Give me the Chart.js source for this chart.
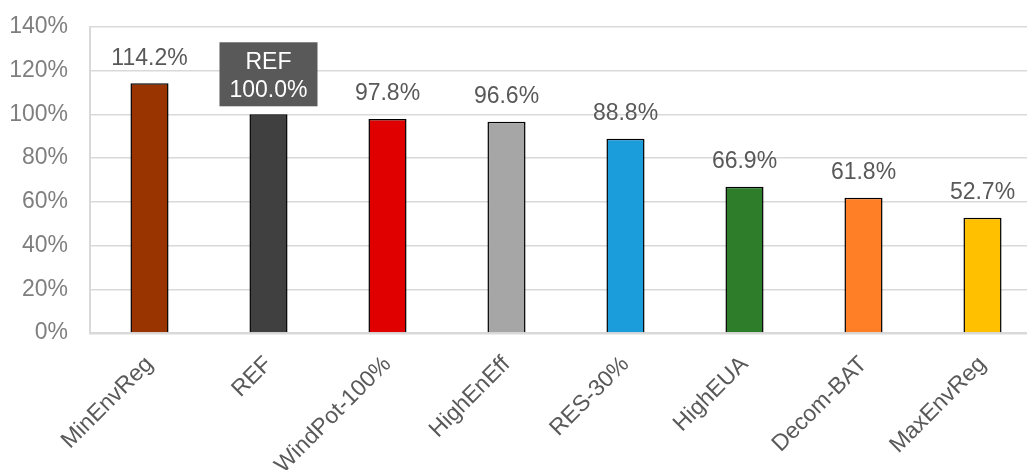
<!DOCTYPE html>
<html><head><meta charset="utf-8">
<script src="https://cdn.jsdelivr.net/npm/chart.js@4/dist/chart.umd.min.js"></script>
<style>html,body{margin:0;padding:0;overflow:hidden;background:#fff;}#wrap{position:relative;width:1042px;height:470px;overflow:hidden;}#c{position:absolute;left:0;top:-9px;}</style>
</head><body><div id="wrap"><canvas id="c" width="1042" height="479"></canvas></div>
<script>
const categories = ["MinEnvReg","REF","WindPot-100%","HighEnEff","RES-30%","HighEUA","Decom-BAT","MaxEnvReg"];
const values = [114.2,100.0,97.8,96.6,88.8,66.9,61.8,52.7];
const colors = ["#993300","#404040","#E00000","#A6A6A6","#1B9CDB","#2E7D2A","#FF7F27","#FFC000"];
const yTicks = [0,20,40,60,80,100,120,140];
const highlightIndex = 1;
const highlightTitle = "REF";
const FONT = '"Liberation Sans", Arial, sans-serif';

const labelPlugin = {
  id:'labels',
  afterDatasetsDraw(chart){
    const ctx = chart.ctx;
    const meta = chart.getDatasetMeta(0);
    ctx.save();
    ctx.font = '23px ' + FONT;
    ctx.textAlign = 'center';
    ctx.textBaseline = 'middle';
    meta.data.forEach((bar,i)=>{
      const txt = values[i].toFixed(1)+'%';
      if(i===highlightIndex){
        const w=98,h=64;
        const x0=bar.x-w/2, y1=bar.y-8, y0=y1-h;
        ctx.fillStyle='#595959';
        ctx.fillRect(x0,y0,w,h);
        ctx.fillStyle='#ffffff';
        ctx.fillText(highlightTitle,bar.x,y0+20);
        ctx.fillText(txt,bar.x,y0+48);
      } else {
        ctx.fillStyle='#595959';
        ctx.fillText(txt,bar.x,bar.y-25);
      }
    });
    ctx.restore();
  }
};

new Chart(document.getElementById('c'),{
  type:'bar',
  data:{labels:categories,datasets:[{data:values,backgroundColor:colors,borderColor:'#000',borderWidth:1.5,barPercentage:0.32,categoryPercentage:1}]},
  options:{
    responsive:false,animation:false,
    layout:{padding:{top:14,right:0,left:0,bottom:0}},
    plugins:{legend:{display:false},tooltip:{enabled:false}},
    scales:{
      y:{min:0,max:140,
        afterFit(s){s.width=90;},
        afterBuildTicks(s){s.ticks=yTicks.map(v=>({value:v}));},
        ticks:{callback:v=>v+'%',color:'#7f7f7f',font:{size:23,family:FONT},padding:22},
        grid:{color:'#d9d9d9',lineWidth:1.5,drawTicks:false},
        border:{color:'#d9d9d9',width:2}
      },
      x:{
        afterFit(s){s.height=137;},
        ticks:{minRotation:45,maxRotation:45,color:'#595959',font:{size:23,family:FONT},padding:18},
        grid:{display:false,drawTicks:false},
        border:{color:'#d9d9d9',width:2.5}
      }
    }
  },
  plugins:[labelPlugin]
});
</script></body></html>
